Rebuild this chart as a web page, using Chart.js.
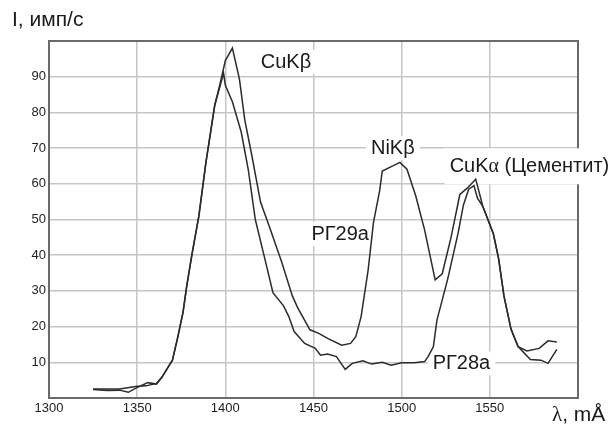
<!DOCTYPE html>
<html>
<head>
<meta charset="utf-8">
<script src="https://cdn.jsdelivr.net/npm/chart.js@4"></script>
<style>
  html, body { margin: 0; padding: 0; background: #fff; }
  #wrap { width: 616px; height: 428px; }
</style>
</head>
<body>
<div id="wrap"><canvas id="spectrum" width="616" height="428"></canvas></div>
<script>
// wavelength (mA) / intensity (imp/s)
const x29 = [1325, 1333, 1340, 1349, 1355, 1361, 1364, 1368, 1370, 1373, 1376, 1378, 1381, 1385, 1389, 1394, 1397, 1400, 1404,
  1408, 1411, 1415, 1420, 1425, 1432, 1438, 1441, 1448, 1453, 1458, 1466, 1471, 1474, 1477, 1481, 1484, 1487.5, 1489, 1495, 1499,
  1503, 1508, 1513, 1519, 1523, 1528, 1533, 1537, 1542, 1546, 1552, 1555, 1558, 1562, 1566, 1571, 1578, 1583, 1588];
const y29 = [2.5, 2.5, 2.5, 3.2, 3.4, 4.1, 5.8, 9, 10.6, 17, 24, 31, 40, 51, 66, 82, 88, 94.5, 98,
  89.3, 78, 68, 54.8, 48, 38, 28.6, 25.3, 19.1, 18.1, 16.7, 14.8, 15.3, 17.2, 22.8, 35.9, 49.1, 58, 63.6, 65, 66,
  64.1, 56.6, 47.1, 33.1, 34.8, 45, 57, 58.7, 61.3, 53.7, 46, 39, 28.6, 19.3, 14.4, 13.2, 13.9, 16, 15.7];

const x28 = [1325, 1333, 1340, 1345, 1349, 1356, 1361, 1364, 1368, 1370, 1373, 1376, 1378, 1381, 1385, 1389, 1394, 1399,
  1400, 1404, 1409, 1413, 1417, 1422, 1427, 1433, 1436, 1439, 1445, 1451, 1454, 1458, 1463, 1468, 1472, 1478, 1483, 1489,
  1494, 1500, 1507, 1513, 1515, 1518, 1520, 1526, 1532, 1535, 1538, 1541, 1543, 1546, 1552, 1555, 1558, 1562, 1566, 1573,
  1579, 1583, 1588];
const y28 = [2.4, 2.1, 2.2, 1.6, 2.7, 4.3, 3.9, 5.8, 9, 10.6, 17, 24, 31, 40, 51, 66, 82, 91,
  87.6, 83, 74.5, 64, 50, 39.8, 29.5, 25.8, 22.8, 18.6, 15.3, 13.9, 12, 12.3, 11.6, 8, 9.7, 10.4, 9.5, 10,
  9.2, 9.9, 9.9, 10.2, 11.6, 14.4, 21.8, 33.1, 46.2, 54, 58.5, 59.5, 56, 53.7, 46, 39, 28.6, 19.3, 14.4, 10.8,
  10.6, 9.7, 13.6];

const xTicks = [1300, 1350, 1400, 1450, 1500, 1550];
const yTicks = [10, 20, 30, 40, 50, 60, 70, 80, 90];

function pts(xs, ys) {
  return xs.map((x, i) => ({ x: x, y: ys[i] }));
}

const sansFont = '"Liberation Sans", Arial, sans-serif';
const serifFont = '"Liberation Serif", "DejaVu Serif", serif';

// labels on the plot, placed in data units (left edge, middle)
const notes = [
  { x: 1420.1, y: 94.1, h: 24, parts: [['CuKβ', sansFont]] },
  { x: 1482.6, y: 70.0, h: 24, parts: [['NiKβ', sansFont]] },
  { x: 1527.2, y: 64.9, h: 36, parts: [['CuK', sansFont], ['α', serifFont], [' (Цементит)', sansFont]] },
  { x: 1448.8, y: 45.9, h: 24, parts: [['РГ29а', sansFont]] },
  { x: 1517.6, y: 9.7, h: 24, parts: [['РГ28а', sansFont]] }
];

function drawParts(ctx, parts, x, y, size) {
  let cx = x;
  parts.forEach(p => {
    ctx.font = size + 'px ' + p[1];
    ctx.fillText(p[0], cx, y);
    cx += ctx.measureText(p[0]).width;
  });
  return cx - x;
}

function partsWidth(ctx, parts, size) {
  let w = 0;
  parts.forEach(p => {
    ctx.font = size + 'px ' + p[1];
    w += ctx.measureText(p[0]).width;
  });
  return w;
}

const framePlugin = {
  id: 'frame',
  beforeDatasetsDraw(chart) {
    const ctx = chart.ctx;
    const a = chart.chartArea;
    ctx.save();
    ctx.strokeStyle = '#6a6a6a';
    ctx.lineWidth = 2;
    ctx.strokeRect(a.left, a.top, a.right - a.left, a.bottom - a.top);

    // white boxes behind labels, then the text
    const sx = chart.scales.x, sy = chart.scales.y;
    ctx.textBaseline = 'middle';
    notes.forEach(n => {
      const px = sx.getPixelForValue(n.x);
      const py = sy.getPixelForValue(n.y);
      const w = partsWidth(ctx, n.parts, 20);
      ctx.fillStyle = '#fff';
      ctx.fillRect(px - 5, py - n.h / 2, w + 10, n.h);
      ctx.fillStyle = '#1a1a1a';
      drawParts(ctx, n.parts, px, py, 20);
    });
    ctx.restore();
  },
  afterDraw(chart) {
    const ctx = chart.ctx;
    ctx.save();
    ctx.fillStyle = '#1a1a1a';
    ctx.textBaseline = 'middle';
    ctx.font = '21px ' + sansFont;
    ctx.fillText('I, имп/с', 12, 20);
    drawParts(ctx, [['λ', serifFont], [', mÅ', sansFont]], 552, 415, 21);
    ctx.restore();
  }
};

const lineStyle = {
  borderColor: '#2b2b2b',
  borderWidth: 1.5,
  pointRadius: 0,
  fill: false,
  tension: 0
};

const spectrumChart = new Chart(document.getElementById('spectrum'), {
  type: 'scatter',
  data: {
    datasets: [
      Object.assign({ label: 'РГ29а', data: pts(x29, y29), showLine: true }, lineStyle),
      Object.assign({ label: 'РГ28а', data: pts(x28, y28), showLine: true }, lineStyle)
    ]
  },
  options: {
    responsive: false,
    animation: false,
    layout: { padding: { top: 41, right: 38, left: 0, bottom: 0 } },
    plugins: { legend: { display: false }, tooltip: { enabled: false } },
    scales: {
      x: {
        type: 'linear',
        min: 1300,
        max: 1600,
        afterFit(s) { s.height = 30; },
        afterBuildTicks(s) { s.ticks = xTicks.concat([1600]).map(v => ({ value: v })); },
        ticks: {
          padding: 3,
          color: '#222',
          font: { family: sansFont, size: 13 },
          callback: v => xTicks.includes(v) ? String(v) : ''
        },
        grid: { color: '#c6c6c6', lineWidth: 1.5, drawTicks: false },
        border: { display: false }
      },
      y: {
        min: 0,
        max: 100,
        afterFit(s) { s.width = 49; },
        afterBuildTicks(s) { s.ticks = [0].concat(yTicks, [100]).map(v => ({ value: v })); },
        ticks: {
          padding: 3,
          color: '#222',
          font: { family: sansFont, size: 13 },
          callback: v => yTicks.includes(v) ? String(v) : ''
        },
        grid: { color: '#c6c6c6', lineWidth: 1.5, drawTicks: false },
        border: { display: false }
      }
    }
  },
  plugins: [framePlugin]
});
</script>
</body>
</html>
